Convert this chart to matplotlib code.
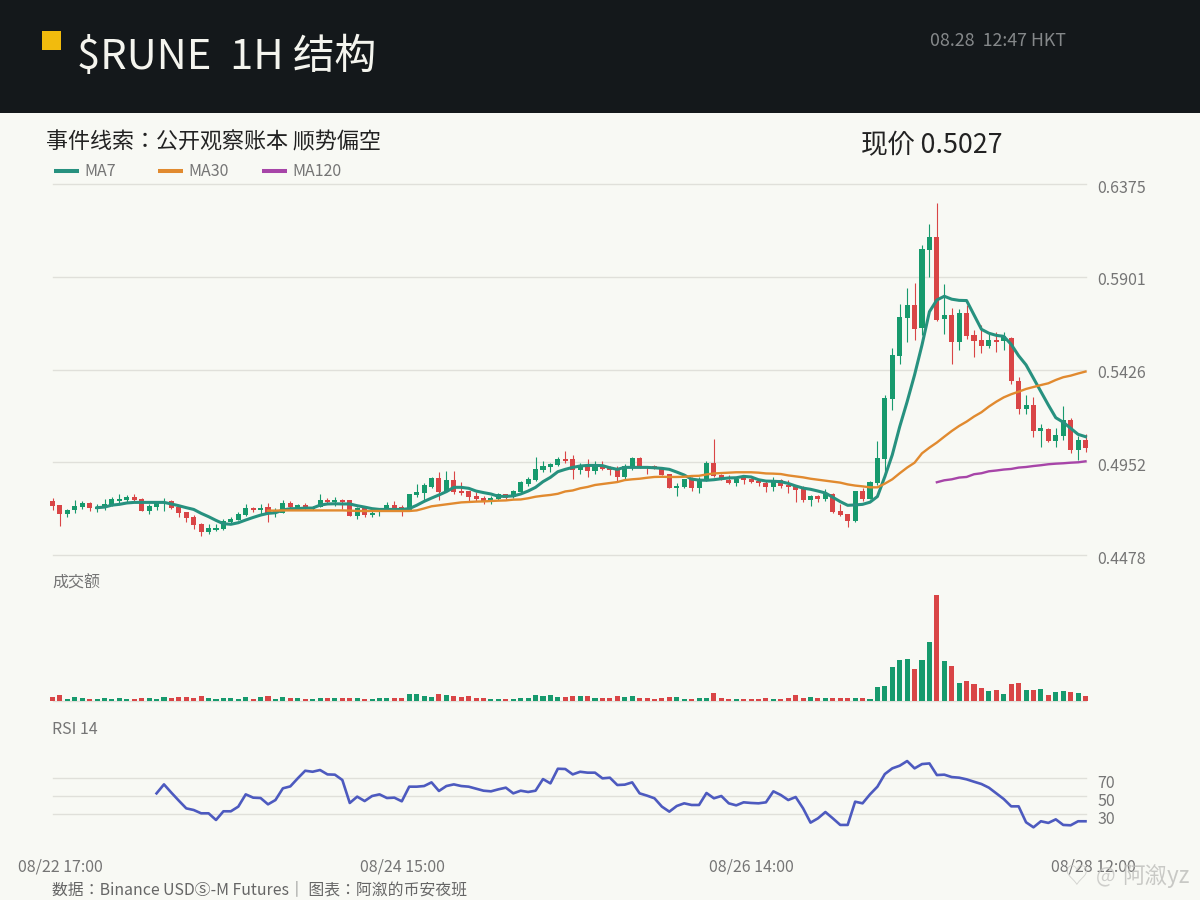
import numpy as np
import matplotlib
matplotlib.use("Agg")
import matplotlib.pyplot as plt
from matplotlib.lines import Line2D
from matplotlib.patches import Rectangle
from matplotlib.transforms import ScaledTranslation

plt.rcParams['font.family'] = ['Noto Sans CJK JP', 'DejaVu Sans']

# prices in units of 0.0001
opens = [4754,4733,4687,4708,4723,4744,4713,4718,4733,4754,
         4759,4774,4764,4703,4723,4744,4754,4723,4698,4672,
         4636,4595,4606,4611,4647,4657,4682,4718,4708,4723,
         4698,4693,4744,4713,4733,4711,4723,4759,4749,4759,
         4759,4677,4718,4682,4698,4708,4733,4723,4708,4785,
         4795,4826,4872,4800,4861,4805,4805,4780,4769,4754,
         4764,4790,4774,4800,4841,4861,4912,4928,4938,4969,
         4969,4912,4933,4907,4933,4928,4912,4877,4928,4974,
         4928,4933,4918,4892,4820,4826,4866,4820,4856,4948,
         4887,4861,4846,4877,4866,4856,4846,4826,4861,4836,
         4831,4815,4759,4780,4764,4790,4703,4687,4652,4805,
         4764,4846,4969,5276,5496,5690,5757,5639,6038,6104,
         5685,5705,5567,5716,5603,5578,5547,5578,5572,5588,
         5368,5225,5245,5112,5122,5061,5087,5169,5015,5066]
highs = [4769,4733,4713,4759,4754,4749,4739,4764,4774,4790,
         4785,4790,4769,4739,4754,4769,4759,4728,4698,4682,
         4641,4636,4636,4662,4672,4698,4739,4723,4739,4744,
         4718,4759,4754,4739,4744,4728,4790,4769,4774,4764,
         4759,4723,4723,4713,4713,4749,4754,4733,4790,4841,
         4846,4877,4902,4907,4907,4851,4805,4800,4780,4780,
         4795,4790,4810,4856,4877,4979,4959,4948,4979,5010,
         4989,4948,4969,4959,4959,4933,4933,4943,4979,4979,
         4928,4938,4923,4892,4846,4866,4877,4877,4959,5071,
         4892,4887,4877,4882,4872,4866,4861,4877,4866,4861,
         4836,4831,4785,4785,4815,4795,4739,4687,4805,4820,
         4856,5061,5296,5537,5762,5843,5869,6063,6171,6278,
         5864,5741,5736,5757,5629,5654,5608,5618,5618,5593,
         5388,5296,5286,5148,5128,5128,5240,5179,5087,5097]
lows = [4708,4626,4672,4693,4713,4703,4698,4708,4728,4739,
        4749,4754,4703,4687,4708,4703,4713,4672,4647,4611,
        4575,4585,4601,4606,4636,4657,4677,4698,4682,4647,
        4672,4693,4718,4708,4708,4708,4723,4739,4728,4713,
        4677,4662,4672,4672,4677,4708,4708,4677,4708,4774,
        4759,4820,4759,4800,4790,4785,4754,4754,4739,4739,
        4759,4764,4769,4795,4831,4856,4902,4902,4933,4948,
        4866,4892,4877,4892,4912,4887,4856,4866,4912,4923,
        4892,4918,4887,4820,4780,4820,4805,4795,4856,4877,
        4861,4841,4831,4841,4846,4831,4800,4805,4820,4795,
        4749,4749,4728,4749,4754,4693,4677,4621,4647,4754,
        4764,4836,4877,5220,5455,5567,5578,5603,5900,5675,
        5608,5455,5526,5583,5491,5511,5537,5516,5526,5353,
        5199,5199,5082,5030,5056,5030,5066,5000,4964,5005]
closes = [4728,4687,4708,4728,4744,4718,4723,4739,4764,4764,
          4774,4759,4703,4728,4744,4749,4718,4693,4667,4631,
          4595,4616,4616,4652,4662,4687,4718,4708,4718,4693,
          4708,4744,4723,4733,4718,4725,4759,4749,4759,4749,
          4677,4718,4682,4693,4708,4733,4718,4708,4790,4800,
          4836,4872,4800,4861,4800,4795,4774,4764,4754,4769,
          4790,4769,4805,4851,4866,4918,4933,4943,4969,4959,
          4912,4933,4907,4933,4918,4912,4877,4933,4974,4928,
          4923,4923,4887,4820,4831,4866,4820,4861,4948,4882,
          4872,4846,4866,4861,4851,4846,4826,4851,4831,4826,
          4810,4759,4780,4764,4795,4698,4682,4652,4805,4764,
          4851,4974,5281,5501,5695,5757,5634,6043,6104,5680,
          5705,5567,5716,5598,5572,5547,5578,5567,5598,5368,
          5225,5245,5112,5128,5061,5092,5169,5015,5066,5027]

# moving averages, each one ends on the last candle
ma7 = [4720,4723,4733,4737,4744,4747,4747,4747,4747,4747,4739,4730,4720,4711,
       4691,4674,4655,4638,4635,4643,4657,4670,4682,4691,4694,4708,4715,4715,
       4718,4718,4733,4739,4740,4739,4739,4730,4723,4715,4711,4711,4711,4711,
       4715,4732,4752,4769,4785,4802,4824,4824,4819,4805,4797,4790,4778,4778,
       4780,4790,4805,4824,4853,4875,4904,4916,4926,4933,4936,4936,4935,4924,
       4916,4926,4926,4926,4926,4924,4921,4916,4902,4887,4866,4861,4860,4863,
       4868,4872,4873,4880,4877,4863,4856,4855,4853,4844,4831,4820,4814,4805,
       4795,4773,4751,4732,4734,4737,4748,4777,4879,4990,5134,5262,5399,5552,
       5722,5782,5801,5786,5780,5779,5705,5632,5612,5601,5596,5555,5497,5450,
       5382,5313,5245,5180,5157,5126,5095,5083]
ma30 = [4705,4705,4706,4706,4706,4706,4706,4706,4706,4706,4706,4705,4703,4703,
        4703,4703,4703,4703,4703,4703,4706,4716,4727,4732,4737,4742,4747,4749,
        4751,4752,4754,4756,4757,4761,4762,4768,4776,4781,4785,4791,4803,4808,
        4819,4826,4836,4841,4846,4851,4861,4865,4868,4873,4877,4878,4877,4877,
        4878,4882,4883,4890,4895,4897,4899,4901,4901,4901,4899,4895,4894,4892,
        4885,4880,4875,4868,4863,4858,4853,4848,4839,4833,4829,4824,4824,4843,
        4865,4896,4925,4950,4998,5027,5053,5083,5112,5138,5160,5186,5208,5237,
        5262,5284,5300,5313,5327,5337,5347,5356,5373,5387,5395,5406,5416]
ma120 = [4850,4860,4865,4874,4877,4891,4896,4906,4910,4915,4918,4925,4928,4933,
         4937,4942,4945,4947,4950,4952,4957]

volumes = [12,18,6,12,9,6,6,9,6,9,6,6,9,9,6,12,9,12,12,9,15,9,6,9,9,6,12,6,12,15,
           6,12,9,9,6,6,9,9,9,9,9,9,6,6,9,9,9,9,21,21,15,12,21,18,15,12,15,9,9,6,
           6,6,6,9,9,18,15,18,12,12,15,15,15,9,9,9,15,12,15,9,9,6,9,12,12,6,6,9,9,24,
           9,6,6,6,6,6,9,6,6,9,18,9,12,9,9,9,9,9,9,9,6,42,45,102,123,126,96,123,177,318,
           120,105,54,60,51,39,30,33,21,51,54,33,33,36,18,27,30,27,24,15]

rsi14 = [52.9,62.7,53.6,44.9,36.5,34.7,31.1,31.1,23.8,33.3,33.3,38.4,51.8,48.2,47.8,
         40.9,45.6,58.4,60.5,69.3,77.6,76.5,78.4,73.6,73.3,67.5,42.4,49.3,44.5,50.0,
         51.8,47.8,48.2,44.2,60.2,60.2,60.9,64.9,55.5,60.9,62.7,60.9,60.2,58.0,55.8,
         55.1,57.3,59.1,52.9,55.8,54.4,55.8,68.5,63.8,79.8,79.5,73.6,76.5,75.5,75.5,
         69.3,70.0,62.0,62.4,64.9,52.9,50.4,47.5,38.4,32.9,39.1,42.0,40.2,40.2,53.3,
         47.5,50.0,42.0,39.8,43.1,42.4,42.0,43.1,55.1,51.1,45.6,48.9,36.5,20.9,25.6,
         32.5,25.6,18.4,18.4,43.8,42.0,51.8,60.2,74.0,80.2,83.1,88.2,80.2,84.9,85.6,
         72.9,73.3,70.7,70.0,68.2,65.6,63.1,59.1,52.9,46.7,38.7,38.7,21.3,15.8,22.4,
         20.6,24.5,18.4,18.0,22.4,22.4]

price_ticks = [0.4478, 0.4952, 0.5426, 0.5901, 0.6375]
rsi_ticks = [30, 50, 70]
time_pos = [0, 46, 93, 139]
time_labels = ["08/22 17:00", "08/24 15:00", "08/26 14:00", "08/28 12:00"]
ma_names = ["MA7", "MA30", "MA120"]

BG = "#f8f9f4"
GREEN = "#179a6d"
RED = "#d94546"
GRID = "#e0e0da"
GRAY = "#757575"
MA_COLORS = ["#27917f", "#e18a2f", "#a745a8"]

o, h, l, c = [np.array(a) / 10000 for a in (opens, highs, lows, closes)]
x = np.arange(len(c))
colors = [GREEN if c[i] >= o[i] else RED for i in x]


def axes_px(left, top, right, bottom):
    return fig.add_axes([left / 1200, 1 - bottom / 900, (right - left) / 1200, (bottom - top) / 900])


def tail(values):
    return np.arange(len(c) - len(values), len(c)), np.array(values)


def style(ax):
    ax.set_facecolor("none")
    ax.set_xlim(0, len(c) - 1)
    for s in ax.spines.values():
        s.set_visible(False)
    ax.tick_params(length=0, labelbottom=False)
    ax.set_xticks([])
    ax.grid(axis="y", color=GRID, lw=1, clip_on=False)
    ax.set_axisbelow(True)


def shift_labels(labels, dx, dy):
    # tick labels sit a little off their ticks in the reference
    for lab in labels:
        lab.set_transform(lab.get_transform() + ScaledTranslation(dx / 100, dy / 100, fig.dpi_scale_trans))


fig = plt.figure(figsize=(12, 9), dpi=100, facecolor=BG)

# header
fig.add_artist(Rectangle((0, 1 - 113 / 900), 1, 113 / 900, transform=fig.transFigure, color="#14181b", lw=0))
fig.add_artist(Rectangle((42 / 1200, 1 - 50 / 900), 19 / 1200, 19 / 900, transform=fig.transFigure, color="#f2bb0d", lw=0))
fig.text(77 / 1200, 1 - 69 / 900, "$RUNE  1H 结构", color="#f4f4ee", fontsize=30, va="baseline")
fig.text(930 / 1200, 1 - 41 / 900, "08.28  12:47 HKT", color="#85888a", fontsize=12.8, va="center")
fig.text(46 / 1200, 1 - 142 / 900, "事件线索：公开观察账本 顺势偏空", color="#222222", fontsize=15.85, va="center")
fig.text(861 / 1200, 1 - 146 / 900, "现价 0.5027", color="#222222", fontsize=19.3, va="center")

# price panel
ax = axes_px(52.5, 184, 1085.5, 555)
style(ax)
ax.set_ylim(price_ticks[0], price_ticks[-1])
ax.yaxis.tick_right()
ax.set_yticks(price_ticks, [f"{t:.4f}" for t in price_ticks], color=GRAY, fontsize=11.5)
ax.tick_params(axis="y", pad=8.4)
shift_labels(ax.get_yticklabels(), 0, -2)
ax.vlines(x, l, h, colors=colors, lw=0.8, zorder=2, clip_on=False)
ax.bar(x, np.abs(c - o), bottom=np.minimum(o, c), width=0.68, color=colors, lw=0, zorder=3, clip_on=False)
for vals, col, lw in zip((ma7, ma30, ma120), MA_COLORS, (2.2, 1.7, 1.7)):
    xs, ys = tail(vals)
    ax.plot(xs, ys / 10000, color=col, lw=lw, zorder=4, clip_on=False)

# legend drawn by hand, the columns are not evenly spaced for text width
for name, col, lx in zip(ma_names, MA_COLORS, (54, 158, 262)):
    fig.add_artist(Line2D([lx / 1200, (lx + 25) / 1200], [1 - 170.5 / 900] * 2, color=col, lw=2.9, solid_capstyle="butt"))
    fig.text((lx + 30) / 1200, 1 - 172 / 900, name, color=GRAY, fontsize=11.5, va="center")

# volume panel
ax_vol = axes_px(52.5, 595, 1085.5, 700.7)
style(ax_vol)
ax_vol.set_ylim(0, max(volumes))
ax_vol.set_yticks([0], [""])
ax_vol.bar(x, volumes, width=0.68, color=colors, lw=0, zorder=3, clip_on=False)
fig.text(52 / 1200, 1 - 583 / 900, "成交额", color=GRAY, fontsize=11.5, va="center")

# rsi panel
ax_rsi = axes_px(52.5, 755, 1085.5, 835)
style(ax_rsi)
ax_rsi.set_ylim(7.4, 94.8)
ax_rsi.yaxis.tick_right()
ax_rsi.set_yticks(rsi_ticks, [str(t) for t in rsi_ticks], color=GRAY, fontsize=11.5)
ax_rsi.tick_params(axis="y", pad=8.4)
shift_labels(ax_rsi.get_yticklabels(), 0, -3.5)
xs, ys = tail(rsi14)
ax_rsi.plot(xs, ys, color="#4d5abf", lw=1.9, clip_on=False)
ax_rsi.set_xticks(time_pos, time_labels, color=GRAY, fontsize=11.5)
ax_rsi.tick_params(axis="x", labelbottom=True, pad=17)
shift_labels(ax_rsi.get_xticklabels(), 8, 0)
fig.text(52 / 1200, 1 - 730 / 900, "RSI 14", color=GRAY, fontsize=11.5, va="center")

# footer and watermark
fig.text(52 / 1200, 1 - 890 / 900, "数据：Binance USDⓈ-M Futures｜ 图表：阿溆的币安夜班", color="#666666", fontsize=11.4, va="center")
fig.text(1064 / 1200, 1 - 878 / 900, "♡", color="#c9c9c6", fontsize=17, va="center", alpha=0.8)
fig.text(1096 / 1200, 1 - 876 / 900, "@", color="#c4c4c1", fontsize=15, va="center", alpha=0.8)
fig.text(1122 / 1200, 1 - 876 / 900, "阿溆yz", color="#bdbdba", fontsize=16.2, va="center", alpha=0.8)

fig.savefig("out.png", dpi=100, facecolor=BG)
